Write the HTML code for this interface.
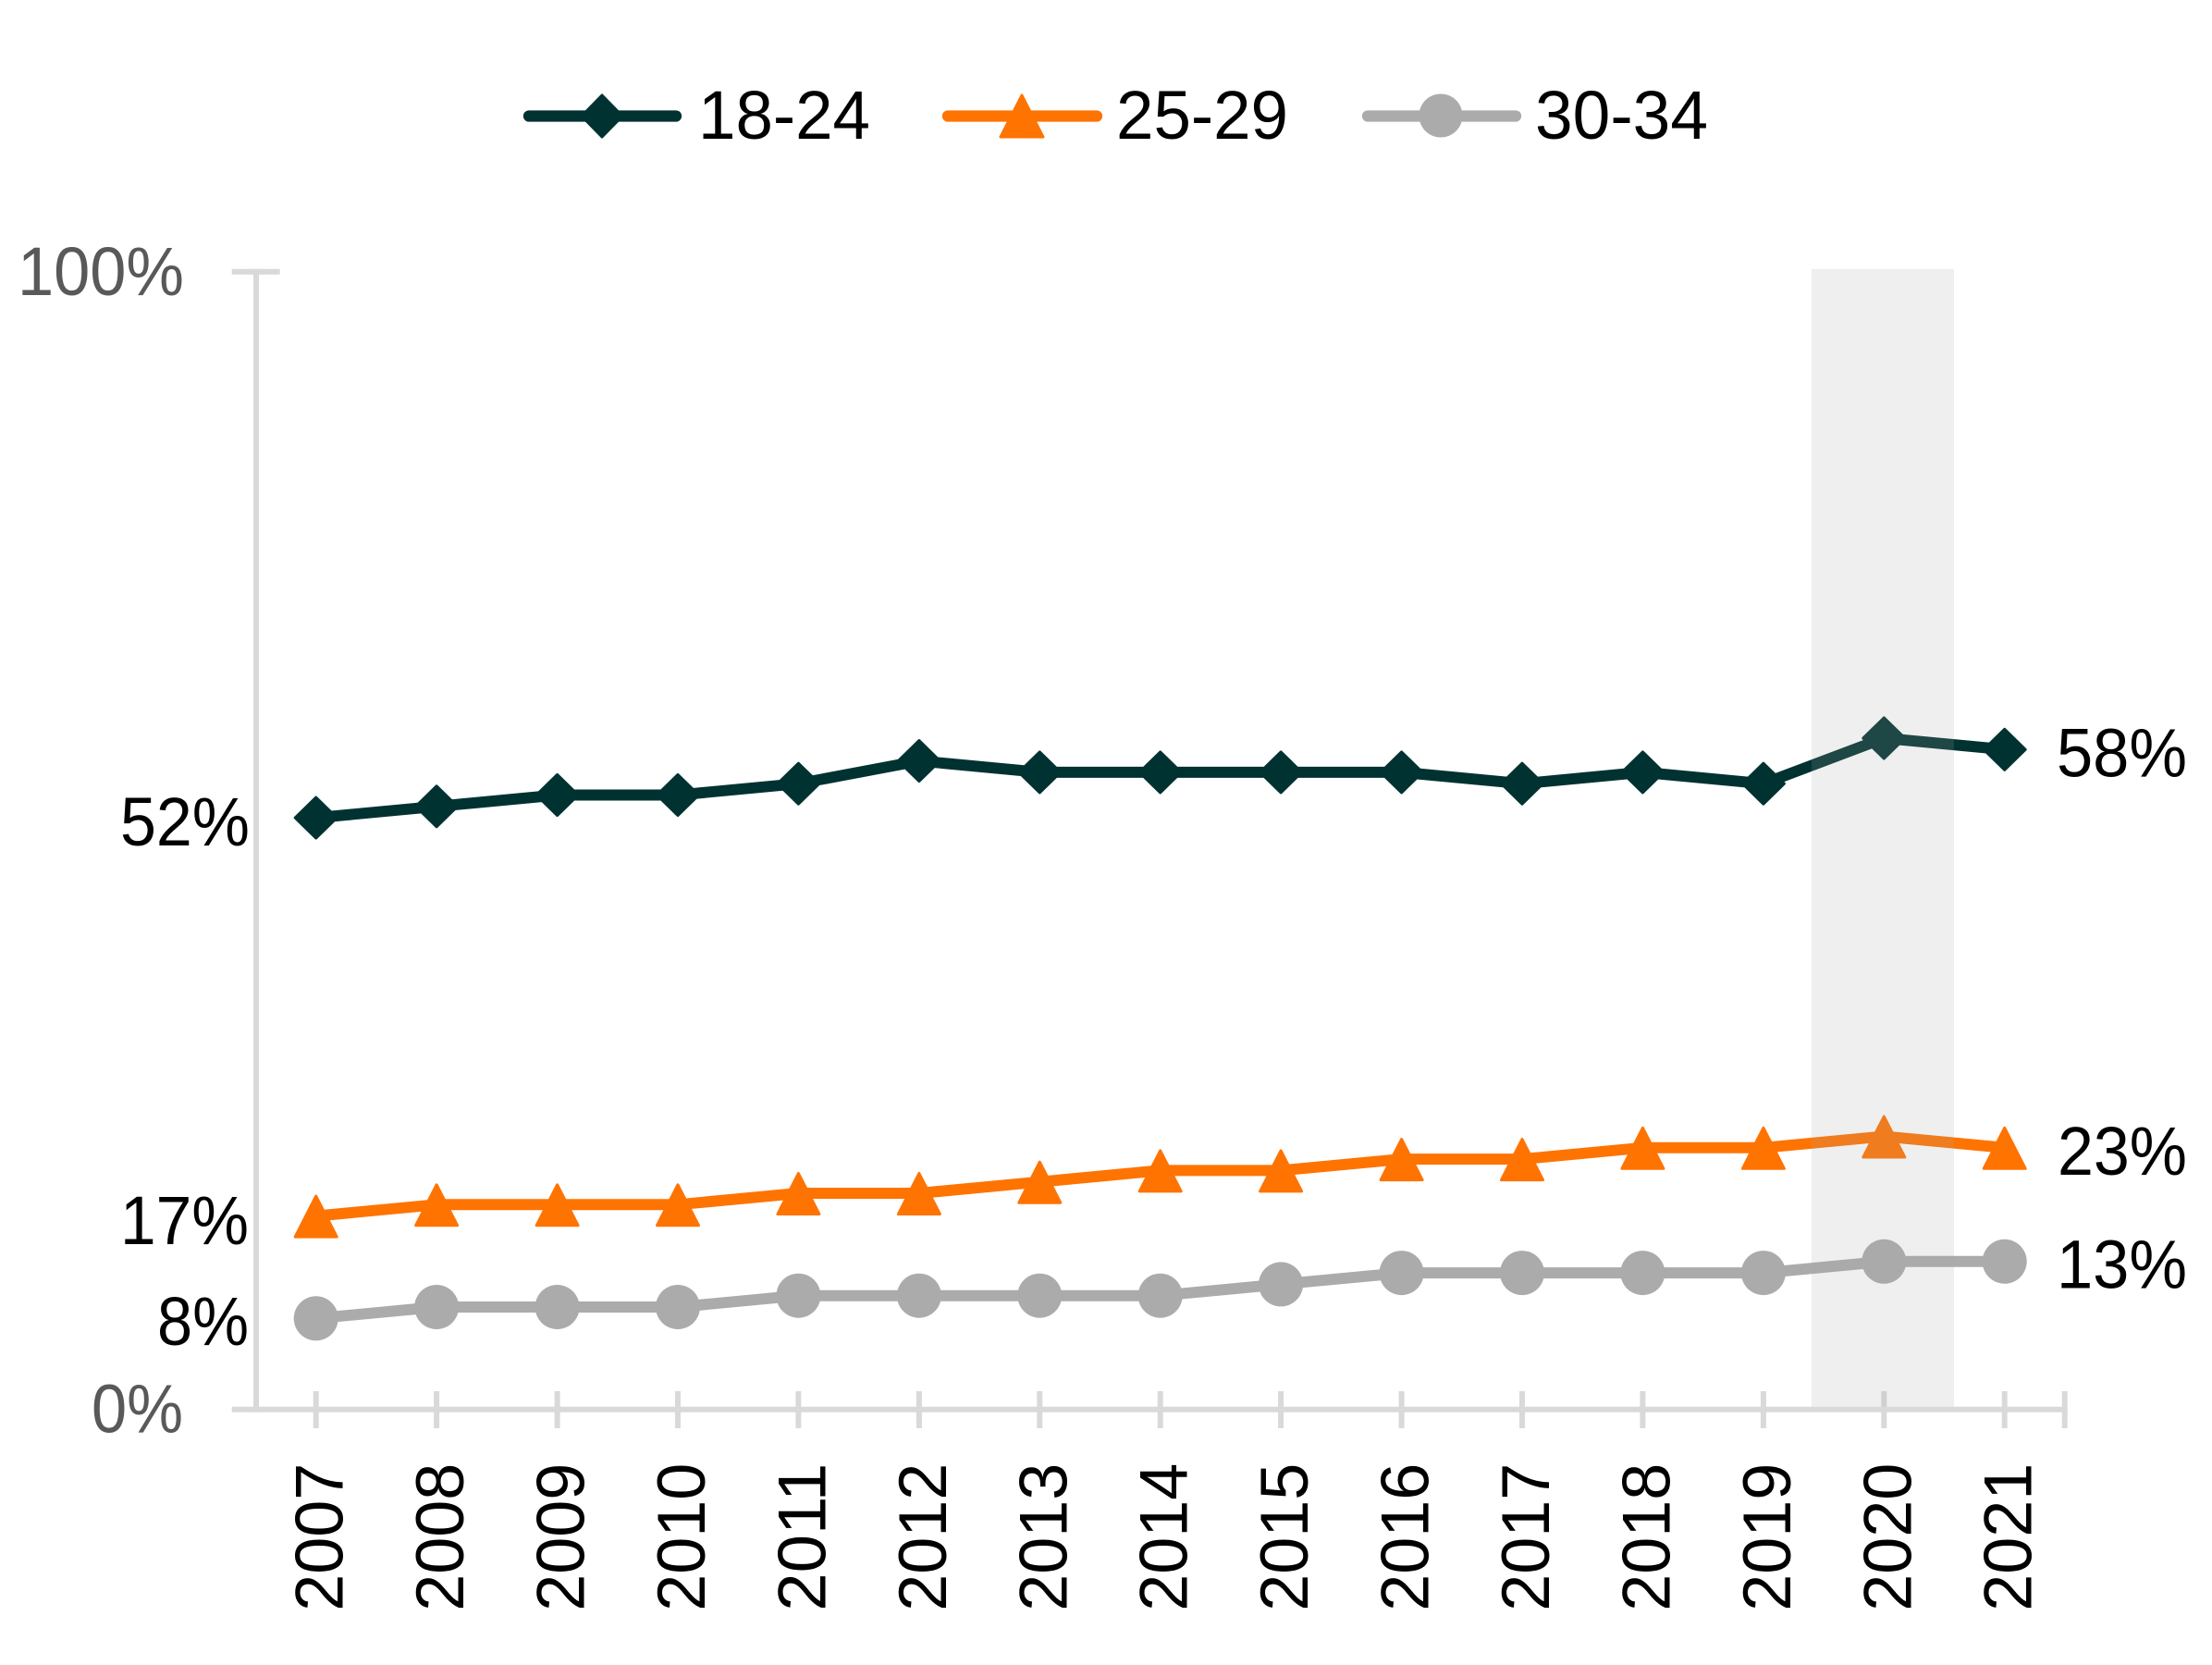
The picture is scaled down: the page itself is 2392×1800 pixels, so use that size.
<!DOCTYPE html>
<html>
<head>
<meta charset="utf-8">
<style>
  html, body { margin: 0; padding: 0; background: #ffffff; }
  svg { display: block; }
  text { font-family: "Liberation Sans", "DejaVu Sans", sans-serif; }
</style>
</head>
<body>
<svg xmlns="http://www.w3.org/2000/svg" width="2392" height="1800" viewBox="0 0 2392 1800">
  <rect x="0" y="0" width="2392" height="1800" fill="#ffffff"/>

  <!-- Legend -->
  <g>
    <line x1="572" y1="125.5" x2="731" y2="125.5" stroke="#003231" stroke-width="12.3" stroke-linecap="round"/>
    <path d="M651,103 L673,125.5 L651,148 L629,125.5 Z" fill="#003231" stroke="#003231" stroke-width="3" stroke-linejoin="round"/>
    <text x="755" y="150" font-size="74" fill="#000" textLength="186" lengthAdjust="spacingAndGlyphs">18-24</text>

    <line x1="1025" y1="125.5" x2="1186" y2="125.5" stroke="#FF7300" stroke-width="12.3" stroke-linecap="round"/>
    <path d="M1105,103 L1128,148 L1082,148 Z" fill="#FF7300" stroke="#FF7300" stroke-width="3" stroke-linejoin="round"/>
    <text x="1207" y="150" font-size="74" fill="#000" textLength="186" lengthAdjust="spacingAndGlyphs">25-29</text>

    <line x1="1479" y1="125.5" x2="1639" y2="125.5" stroke="#ABABAB" stroke-width="12.3" stroke-linecap="round"/>
    <circle cx="1558" cy="125" r="23.5" fill="#ABABAB"/>
    <text x="1660" y="150" font-size="74" fill="#000" textLength="187" lengthAdjust="spacingAndGlyphs">30-34</text>
  </g>

  <!-- Axes -->
  <g stroke="#D9D9D9" stroke-width="6" fill="none">
    <line x1="277" y1="290.7" x2="277" y2="1526.7"/>
    <line x1="250.7" y1="293.7" x2="302.7" y2="293.7"/>
    <line x1="250.7" y1="1523.7" x2="2235.7" y2="1523.7"/>
    <line x1="341.7" y1="1504" x2="341.7" y2="1544"/>
    <line x1="472.1" y1="1504" x2="472.1" y2="1544"/>
    <line x1="602.6" y1="1504" x2="602.6" y2="1544"/>
    <line x1="733.0" y1="1504" x2="733.0" y2="1544"/>
    <line x1="863.4" y1="1504" x2="863.4" y2="1544"/>
    <line x1="993.9" y1="1504" x2="993.9" y2="1544"/>
    <line x1="1124.3" y1="1504" x2="1124.3" y2="1544"/>
    <line x1="1254.7" y1="1504" x2="1254.7" y2="1544"/>
    <line x1="1385.1" y1="1504" x2="1385.1" y2="1544"/>
    <line x1="1515.6" y1="1504" x2="1515.6" y2="1544"/>
    <line x1="1646.0" y1="1504" x2="1646.0" y2="1544"/>
    <line x1="1776.4" y1="1504" x2="1776.4" y2="1544"/>
    <line x1="1906.9" y1="1504" x2="1906.9" y2="1544"/>
    <line x1="2037.3" y1="1504" x2="2037.3" y2="1544"/>
    <line x1="2167.7" y1="1504" x2="2167.7" y2="1544"/>
    <line x1="2232.7" y1="1504" x2="2232.7" y2="1544"/>
  </g>

  <!-- Y axis labels -->
  <text x="19" y="319" font-size="74" fill="#595959" textLength="180" lengthAdjust="spacingAndGlyphs">100%</text>
  <text x="99" y="1548.3" font-size="74" fill="#595959" textLength="99" lengthAdjust="spacingAndGlyphs">0%</text>

  <!-- Series 18-24 -->
  <g>
    <polyline fill="none" stroke="#003231" stroke-width="12" stroke-linejoin="round"
      points="341.7,884.1 472.1,871.8 602.6,859.5 733.0,859.5 863.4,847.2 993.9,822.6 1124.3,834.9 1254.7,834.9 1385.1,834.9 1515.6,834.9 1646.0,847.2 1776.4,834.9 1906.9,847.2 2037.3,798.0 2167.7,810.3"/>
    <g fill="#003231" stroke="#003231" stroke-width="3" stroke-linejoin="round">
      <path d="M341.7,862.1 l22.5,22 l-22.5,22 l-22.5,-22 Z"/>
      <path d="M472.1,849.8 l22.5,22 l-22.5,22 l-22.5,-22 Z"/>
      <path d="M602.6,837.5 l22.5,22 l-22.5,22 l-22.5,-22 Z"/>
      <path d="M733.0,837.5 l22.5,22 l-22.5,22 l-22.5,-22 Z"/>
      <path d="M863.4,825.2 l22.5,22 l-22.5,22 l-22.5,-22 Z"/>
      <path d="M993.9,800.6 l22.5,22 l-22.5,22 l-22.5,-22 Z"/>
      <path d="M1124.3,812.9 l22.5,22 l-22.5,22 l-22.5,-22 Z"/>
      <path d="M1254.7,812.9 l22.5,22 l-22.5,22 l-22.5,-22 Z"/>
      <path d="M1385.1,812.9 l22.5,22 l-22.5,22 l-22.5,-22 Z"/>
      <path d="M1515.6,812.9 l22.5,22 l-22.5,22 l-22.5,-22 Z"/>
      <path d="M1646.0,825.2 l22.5,22 l-22.5,22 l-22.5,-22 Z"/>
      <path d="M1776.4,812.9 l22.5,22 l-22.5,22 l-22.5,-22 Z"/>
      <path d="M1906.9,825.2 l22.5,22 l-22.5,22 l-22.5,-22 Z"/>
      <path d="M2037.3,776.0 l22.5,22 l-22.5,22 l-22.5,-22 Z"/>
      <path d="M2167.7,788.3 l22.5,22 l-22.5,22 l-22.5,-22 Z"/>
    </g>
  </g>

  <!-- Series 25-29 -->
  <g>
    <polyline fill="none" stroke="#FF7300" stroke-width="12" stroke-linejoin="round"
      points="341.7,1314.6 472.1,1302.3 602.6,1302.3 733.0,1302.3 863.4,1290.0 993.9,1290.0 1124.3,1277.7 1254.7,1265.4 1385.1,1265.4 1515.6,1253.1 1646.0,1253.1 1776.4,1240.8 1906.9,1240.8 2037.3,1228.5 2167.7,1240.8"/>
    <g fill="#FF7300" stroke="#FF7300" stroke-width="3" stroke-linejoin="round">
      <path d="M341.7,1293.1 l22.5,44 l-45,0 Z"/>
      <path d="M472.1,1280.8 l22.5,44 l-45,0 Z"/>
      <path d="M602.6,1280.8 l22.5,44 l-45,0 Z"/>
      <path d="M733.0,1280.8 l22.5,44 l-45,0 Z"/>
      <path d="M863.4,1268.5 l22.5,44 l-45,0 Z"/>
      <path d="M993.9,1268.5 l22.5,44 l-45,0 Z"/>
      <path d="M1124.3,1256.2 l22.5,44 l-45,0 Z"/>
      <path d="M1254.7,1243.9 l22.5,44 l-45,0 Z"/>
      <path d="M1385.1,1243.9 l22.5,44 l-45,0 Z"/>
      <path d="M1515.6,1231.6 l22.5,44 l-45,0 Z"/>
      <path d="M1646.0,1231.6 l22.5,44 l-45,0 Z"/>
      <path d="M1776.4,1219.3 l22.5,44 l-45,0 Z"/>
      <path d="M1906.9,1219.3 l22.5,44 l-45,0 Z"/>
      <path d="M2037.3,1207.0 l22.5,44 l-45,0 Z"/>
      <path d="M2167.7,1219.3 l22.5,44 l-45,0 Z"/>
    </g>
  </g>

  <!-- Series 30-34 -->
  <g>
    <polyline fill="none" stroke="#ABABAB" stroke-width="12" stroke-linejoin="round"
      points="341.7,1425.3 472.1,1413.0 602.6,1413.0 733.0,1413.0 863.4,1400.7 993.9,1400.7 1124.3,1400.7 1254.7,1400.7 1385.1,1388.4 1515.6,1376.1 1646.0,1376.1 1776.4,1376.1 1906.9,1376.1 2037.3,1363.8 2167.7,1363.8"/>
    <g fill="#ABABAB">
      <circle cx="341.7" cy="1425.3" r="24"/>
      <circle cx="472.1" cy="1413.0" r="24"/>
      <circle cx="602.6" cy="1413.0" r="24"/>
      <circle cx="733.0" cy="1413.0" r="24"/>
      <circle cx="863.4" cy="1400.7" r="24"/>
      <circle cx="993.9" cy="1400.7" r="24"/>
      <circle cx="1124.3" cy="1400.7" r="24"/>
      <circle cx="1254.7" cy="1400.7" r="24"/>
      <circle cx="1385.1" cy="1388.4" r="24"/>
      <circle cx="1515.6" cy="1376.1" r="24"/>
      <circle cx="1646.0" cy="1376.1" r="24"/>
      <circle cx="1776.4" cy="1376.1" r="24"/>
      <circle cx="1906.9" cy="1376.1" r="24"/>
      <circle cx="2037.3" cy="1363.8" r="24"/>
      <circle cx="2167.7" cy="1363.8" r="24"/>
    </g>
  </g>

  <!-- 2020 shaded band (semi-transparent overlay) -->
  <rect x="1959" y="290.7" width="154" height="1230" fill="#A6A6A6" fill-opacity="0.18"/>

  <!-- Data labels -->
  <text x="130" y="914" font-size="74" fill="#000" textLength="140" lengthAdjust="spacingAndGlyphs">52%</text>
  <text x="130" y="1345" font-size="74" fill="#000" textLength="139" lengthAdjust="spacingAndGlyphs">17%</text>
  <text x="170" y="1454" font-size="74" fill="#000" textLength="99" lengthAdjust="spacingAndGlyphs">8%</text>
  <text x="2224" y="839.3" font-size="74" fill="#000" textLength="141" lengthAdjust="spacingAndGlyphs">58%</text>
  <text x="2225" y="1270" font-size="74" fill="#000" textLength="140" lengthAdjust="spacingAndGlyphs">23%</text>
  <text x="2224" y="1392.7" font-size="74" fill="#000" textLength="141" lengthAdjust="spacingAndGlyphs">13%</text>

  <!-- X axis year labels (rotated) -->
  <g font-size="73" fill="#000">
    <text transform="translate(370.7,1741.7) rotate(-90)" textLength="160" lengthAdjust="spacingAndGlyphs">2007</text>
    <text transform="translate(501.1,1741.7) rotate(-90)" textLength="160" lengthAdjust="spacingAndGlyphs">2008</text>
    <text transform="translate(631.6,1741.7) rotate(-90)" textLength="160" lengthAdjust="spacingAndGlyphs">2009</text>
    <text transform="translate(762.0,1741.7) rotate(-90)" textLength="160" lengthAdjust="spacingAndGlyphs">2010</text>
    <text transform="translate(892.4,1741.7) rotate(-90)" textLength="160" lengthAdjust="spacingAndGlyphs">2011</text>
    <text transform="translate(1022.9,1741.7) rotate(-90)" textLength="160" lengthAdjust="spacingAndGlyphs">2012</text>
    <text transform="translate(1153.3,1741.7) rotate(-90)" textLength="160" lengthAdjust="spacingAndGlyphs">2013</text>
    <text transform="translate(1283.7,1741.7) rotate(-90)" textLength="160" lengthAdjust="spacingAndGlyphs">2014</text>
    <text transform="translate(1414.1,1741.7) rotate(-90)" textLength="160" lengthAdjust="spacingAndGlyphs">2015</text>
    <text transform="translate(1544.6,1741.7) rotate(-90)" textLength="160" lengthAdjust="spacingAndGlyphs">2016</text>
    <text transform="translate(1675.0,1741.7) rotate(-90)" textLength="160" lengthAdjust="spacingAndGlyphs">2017</text>
    <text transform="translate(1805.4,1741.7) rotate(-90)" textLength="160" lengthAdjust="spacingAndGlyphs">2018</text>
    <text transform="translate(1935.9,1741.7) rotate(-90)" textLength="160" lengthAdjust="spacingAndGlyphs">2019</text>
    <text transform="translate(2066.3,1741.7) rotate(-90)" textLength="160" lengthAdjust="spacingAndGlyphs">2020</text>
    <text transform="translate(2196.7,1741.7) rotate(-90)" textLength="160" lengthAdjust="spacingAndGlyphs">2021</text>
  </g>
</svg>
</body>
</html>
